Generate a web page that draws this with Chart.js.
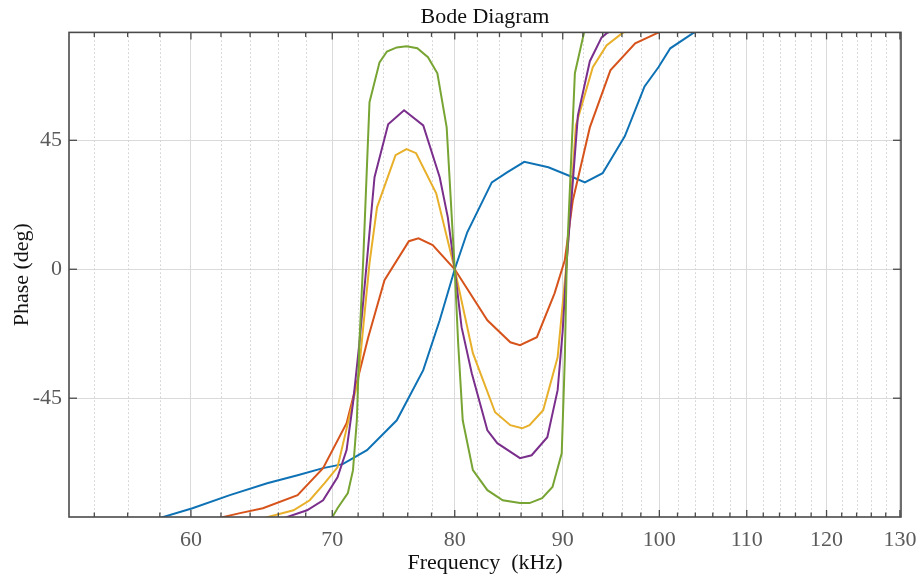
<!DOCTYPE html>
<html>
<head>
<meta charset="utf-8">
<script src="https://cdn.jsdelivr.net/npm/chart.js@4/dist/chart.umd.min.js"></script>
<style>
html,body{margin:0;padding:0;background:#fff;}
#wrap{width:920px;height:579px;position:relative;}
</style>
</head>
<body>
<div id="wrap"><canvas id="c" width="920" height="579"></canvas></div>
<script>
// ---- tick labels ----
const freqTicks = [60, 70, 80, 90, 100, 110, 120, 130];
const minorFreqTicks = [54, 56, 58, 62, 64, 66, 68, 72, 74, 76, 78, 82, 84, 86, 88, 92, 94, 96, 98,
  102, 104, 106, 108, 112, 114, 116, 118, 122, 124, 126, 128];
const phaseTicks = [-45, 0, 45];

// ---- series (frequency in kHz, phase in deg) ----
const blueFreq  = [57.4, 60.1, 62.6, 65.2, 67.4, 69.3, 70.8, 72.7, 75.1, 77.3, 78.7, 80.0, 81.1, 83.3, 84.7, 86.3, 88.6, 91.0, 92.2, 94.0, 96.3, 98.4, 99.9, 101.2, 103.7, 105.1];
const bluePhase = [-87.8, -83.4, -78.8, -74.7, -71.9, -69.4, -68.0, -63.1, -52.7, -35.2, -17.8, 0, 12.9, 30.3, 33.8, 37.5, 35.6, 32.1, 30.3, 33.5, 46.4, 63.8, 70.5, 77.1, 82.3, 84.4];

const orangeFreq  = [61.3, 62.1, 63.3, 64.9, 67.4, 69.3, 71.1, 72.8, 74.1, 76.1, 76.9, 78.1, 80.0, 82.9, 85.0, 85.9, 87.5, 89.2, 90.2, 91.0, 92.7, 94.8, 97.4, 99.7, 101.2];
const orangePhase = [-87.6, -86.5, -85.1, -83.4, -78.8, -69.4, -53.7, -23.7, -3.8, 9.8, 10.8, 8.4, 0, -17.8, -25.5, -26.5, -23.7, -8.4, 3.1, 24.1, 49.5, 69.4, 78.8, 82.3, 84.1];

const yellowFreq  = [64.7, 65.2, 67.1, 68.3, 69.4, 70.4, 71.2, 72.0, 72.3, 72.9, 73.5, 75.0, 75.9, 76.7, 78.4, 80.0, 81.6, 83.6, 85.0, 86.1, 86.8, 88.1, 89.5, 90.4, 91.3, 93.0, 94.4, 96.0, 96.8];
const yellowPhase = [-87.6, -86.5, -84.1, -80.6, -74.7, -69.1, -53.7, -38.7, -24.8, 2.1, 21.6, 39.8, 41.9, 40.5, 26.5, 0, -29.3, -49.9, -54.4, -55.5, -54.4, -49.2, -30.7, 3.1, 50.2, 70.5, 78.1, 82.3, 83.7];

const purpleFreq  = [66.0, 66.6, 68.1, 69.3, 70.4, 71.1, 71.6, 72.1, 72.7, 73.3, 74.4, 75.7, 77.3, 78.7, 79.4, 80.0, 80.6, 81.5, 82.9, 83.8, 85.9, 87.0, 88.5, 89.5, 90.0, 90.4, 91.5, 92.7, 93.9, 94.4, 95.0];
const purplePhase = [-87.6, -86.5, -84.1, -80.6, -72.6, -63.1, -46.7, -25.8, 3.1, 32.1, 50.6, 55.5, 50.2, 32.1, 18.1, 0, -20.2, -36.3, -56.2, -60.7, -65.9, -64.9, -58.6, -42.2, -21.3, 3.1, 53.7, 72.6, 80.9, 82.3, 83.4];

const greenFreq  = [69.7, 70.0, 70.4, 71.2, 71.6, 71.9, 72.1, 72.4, 72.9, 73.7, 74.3, 75.1, 75.9, 76.8, 77.7, 78.5, 79.3, 80.0, 80.3, 80.7, 81.6, 82.9, 84.3, 85.9, 86.8, 88.0, 89.0, 89.9, 90.2, 90.4, 91.2, 92.1, 92.3];
const greenPhase = [-87.6, -86.5, -83.4, -78.1, -70.1, -52.7, -25.8, 3.1, 58.3, 72.2, 76.0, 77.4, 77.8, 77.1, 74.0, 68.4, 49.5, 0, -25.8, -52.7, -70.1, -77.1, -80.6, -81.6, -81.6, -79.9, -76.0, -64.2, -31.7, 3.1, 68.4, 82.3, 84.1];

const seriesColors = ['#0f72b5', '#d6541c', '#e8b02a', '#7b2f8c', '#77a433'];

function pts(f, p) { return f.map((v, i) => ({ x: v, y: p[i] })); }

const serif = "'Liberation Serif', 'Times New Roman', 'DejaVu Serif', serif";

const matlabFrame = {
  id: 'matlabFrame',
  beforeDatasetsDraw(chart) {
    const { ctx, chartArea: a, scales: { x } } = chart;
    ctx.save();
    ctx.beginPath(); ctx.rect(a.left, a.top, a.width, a.height); ctx.clip();
    ctx.strokeStyle = '#cfcfcf';
    ctx.lineWidth = 1;
    ctx.setLineDash([1.5, 2.5]);
    for (const v of minorFreqTicks) {
      const px = Math.round(x.getPixelForValue(v)) + 0.5;
      ctx.beginPath(); ctx.moveTo(px, a.top); ctx.lineTo(px, a.bottom); ctx.stroke();
    }
    ctx.restore();
  },
  afterDatasetsDraw(chart) {
    const { ctx, chartArea: a, scales: { x, y } } = chart;
    ctx.save();
    ctx.strokeStyle = '#4a4a4a';
    ctx.lineWidth = 1.3;
    const tick = (x1, y1, x2, y2) => { ctx.beginPath(); ctx.moveTo(x1, y1); ctx.lineTo(x2, y2); ctx.stroke(); };
    for (const v of freqTicks) {
      const px = x.getPixelForValue(v);
      tick(px, a.bottom, px, a.bottom - 7);
      tick(px, a.top, px, a.top + 7);
    }
    for (const v of minorFreqTicks) {
      const px = x.getPixelForValue(v);
      tick(px, a.bottom, px, a.bottom - 4.5);
      tick(px, a.top, px, a.top + 4.5);
    }
    for (const v of phaseTicks) {
      const py = y.getPixelForValue(v);
      tick(a.left, py, a.left + 8, py);
      tick(a.right, py, a.right - 8, py);
    }
    ctx.lineWidth = 1.6;
    ctx.strokeRect(a.left, a.top, a.width, a.height);
    ctx.restore();
  }
};

const names = ['s1', 's2', 's3', 's4', 's5'];
const freqs = [blueFreq, orangeFreq, yellowFreq, purpleFreq, greenFreq];
const phases = [bluePhase, orangePhase, yellowPhase, purplePhase, greenPhase];

new Chart(document.getElementById('c'), {
  type: 'line',
  data: {
    datasets: names.map((n, i) => ({
      label: n,
      data: pts(freqs[i], phases[i]),
      borderColor: seriesColors[i],
      backgroundColor: seriesColors[i],
      borderWidth: 2,
      pointRadius: 0,
      tension: 0,
      fill: false,
      clip: 0,
      order: 5 - i
    }))
  },
  options: {
    responsive: false,
    animation: false,
    devicePixelRatio: 1,
    layout: { padding: { left: 0, right: 19, top: 0, bottom: 0 } },
    plugins: {
      legend: { display: false },
      tooltip: { enabled: false },
      title: {
        display: true,
        text: 'Bode Diagram',
        fullSize: false,
        color: '#111',
        font: { family: serif, size: 22, weight: 'normal' },
        padding: { top: 4, bottom: 2 }
      }
    },
    scales: {
      x: {
        type: 'logarithmic',
        position: 'bottom',
        min: 52.53,
        max: 130.15,
        afterBuildTicks: (s) => { s.ticks = freqTicks.map(v => ({ value: v })); },
        afterFit: (s) => { s.height = 62; s.paddingLeft = 0; s.paddingRight = 0; },
        ticks: {
          autoSkip: false,
          maxRotation: 0,
          color: '#5a5a5a',
          padding: 10,
          font: { family: serif, size: 22 },
          callback: (v) => String(v)
        },
        grid: { color: '#dadada', lineWidth: 1, drawTicks: false },
        border: { display: false },
        title: {
          display: true,
          text: 'Frequency  (kHz)',
          color: '#111',
          font: { family: serif, size: 22 },
          padding: { top: 0, bottom: 3 }
        }
      },
      y: {
        type: 'linear',
        min: -86.45,
        max: 82.65,
        afterBuildTicks: (s) => { s.ticks = phaseTicks.map(v => ({ value: v })); },
        afterFit: (s) => { s.width = 69; s.paddingTop = 0; s.paddingBottom = 0; },
        ticks: {
          color: '#5a5a5a',
          padding: 7,
          font: { family: serif, size: 22 },
          callback: (v) => String(v)
        },
        grid: { color: '#dadada', lineWidth: 1, drawTicks: false },
        border: { display: false },
        title: {
          display: true,
          text: 'Phase (deg)',
          color: '#111',
          font: { family: serif, size: 22 },
          padding: { top: 9, bottom: 0 }
        }
      }
    }
  },
  plugins: [matlabFrame]
});
</script>
</body>
</html>
